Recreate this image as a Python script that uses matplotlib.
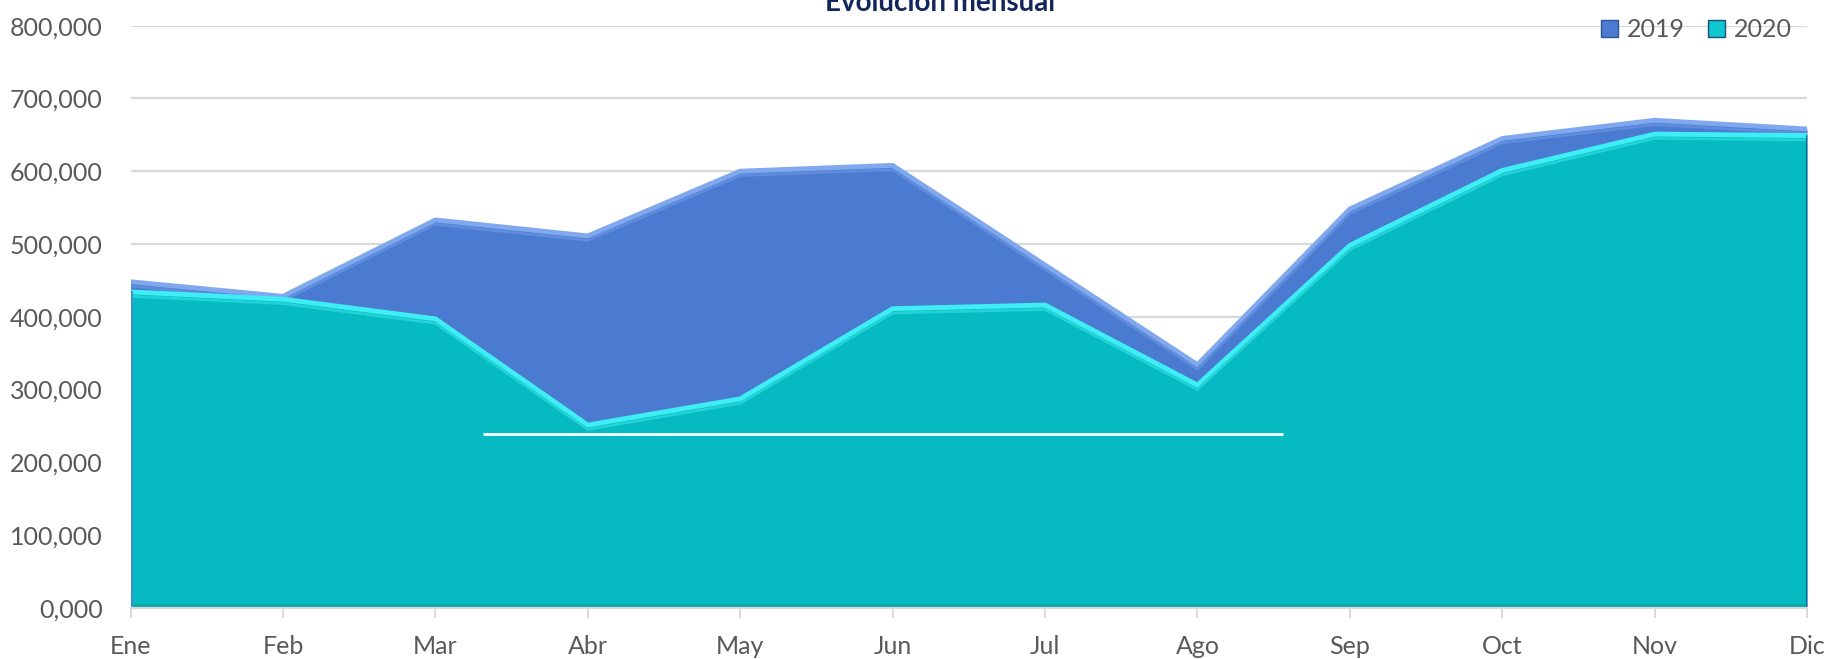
import matplotlib.pyplot as plt
from matplotlib.patches import Patch
from matplotlib.ticker import FuncFormatter, MultipleLocator

plt.rcParams['font.family'] = ['Lato', 'DejaVu Sans']

meses = ["Ene", "Feb", "Mar", "Abr", "May", "Jun", "Jul", "Ago", "Sep", "Oct", "Nov", "Dic"]
v2019 = [448000, 428000, 533000, 511000, 600000, 608000, 471000, 334000, 548000, 645000, 670000, 658000]
v2020 = [434000, 424000, 397000, 251000, 287000, 411000, 416000, 306000, 498000, 601000, 651000, 649000]

# stray white line visible in the original picture
linea_y = 239000
linea_x = (2.31, 7.56)

x = list(range(len(meses)))

fig = plt.figure(figsize=(18.29, 6.59), dpi=100)
ax = fig.add_axes([0.0714, 0.0779, 0.9166, 0.8831])

grid_c = '#D9D9D9'
ax.set_axisbelow(True)
ax.grid(axis='y', color=grid_c, lw=1.6, zorder=0)

# 2019 area (behind)
ax.fill_between(x, 0, v2019, color='#4A7BD0', lw=0, zorder=2)
ax.plot(x, v2019, color='#80A8EE', lw=3.5, zorder=3, solid_joinstyle='round')
ax.plot(x, [v - 6000 for v in v2019], color='#5F8CDC', lw=2, zorder=3)

# 2020 area (front)
ax.fill_between(x, 0, v2020, color='#05BAC0', lw=0, zorder=4)
ax.plot(x, v2020, color='#3EEEF4', lw=3.5, zorder=5, solid_joinstyle='round')
ax.plot(x, [v - 6000 for v in v2020], color='#22D2D8', lw=2, zorder=5)
ax.plot([0, 11], [2500, 2500], color='#08A8AE', lw=3, zorder=5)
ax.plot([11, 11], [0, v2020[-1]], color='#2A4E8A', lw=2, zorder=5)
ax.plot([0, 0], [0, v2020[0]], color='#3E8FD0', lw=2, zorder=5)

ax.hlines(linea_y, linea_x[0], linea_x[1], color='white', lw=2, zorder=6)

ax.set_xlim(0, 11)
ax.set_ylim(0, 800000)
ax.set_xticks(x)
ax.set_xticklabels(meses)
ax.yaxis.set_major_locator(MultipleLocator(100000))
ax.yaxis.set_major_formatter(FuncFormatter(lambda v, p: f"{v / 1000:.0f},000"))

for s in ['left', 'top', 'right']:
    ax.spines[s].set_visible(False)
ax.spines['bottom'].set_color(grid_c)
ax.spines['bottom'].set_linewidth(1.6)
ax.spines['bottom'].set_zorder(7)

ax.tick_params(axis='y', length=0, pad=20, labelsize=18, labelcolor='#595959')
ax.tick_params(axis='x', length=7, width=1.4, color=grid_c, pad=13, labelsize=18, labelcolor='#595959')

fig.text(0.514, 0.984, "Evolución mensual", ha='center', va='baseline',
         fontsize=20, fontweight='bold', color='#13265C')

handles = [Patch(facecolor='#4A7BD0', edgecolor='#2F5597', lw=1, label='2019'),
           Patch(facecolor='#0FC6CC', edgecolor='#1F4E79', lw=1, label='2020')]
fig.legend(handles=handles, loc='center right', bbox_to_anchor=(0.9865, 0.9545),
           ncol=2, frameon=False, fontsize=18, handlelength=0.68, handleheight=0.68,
           handletextpad=0.36, columnspacing=0.9, borderpad=0, labelcolor='#595959')

fig.savefig('out.png', dpi=100)
